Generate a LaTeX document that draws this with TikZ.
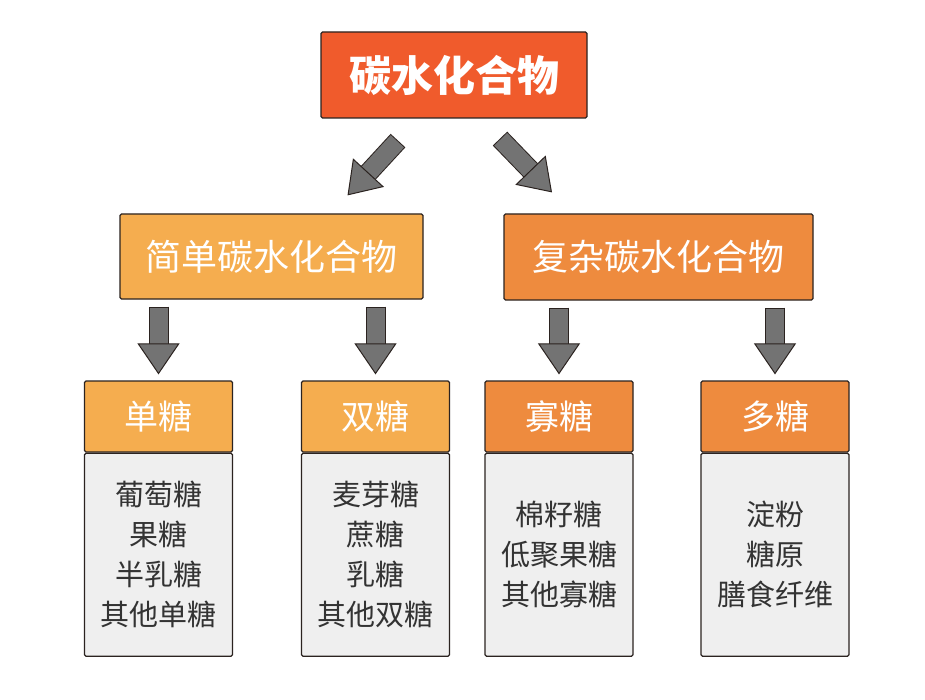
\documentclass[tikz,border=0pt]{standalone}
\usepackage{fontspec}
\newfontfamily\cjk{Noto Sans CJK SC}
\usetikzlibrary{positioning,calc,arrows.meta}
\definecolor{topred}{HTML}{F05B2C}
\definecolor{lightor}{HTML}{F5AD4F}
\definecolor{darkor}{HTML}{EE8B3E}
\definecolor{bodygray}{HTML}{EFEFEF}
\definecolor{edge}{HTML}{2B2320}
\definecolor{arrowgray}{HTML}{737373}
\begin{document}
\begin{tikzpicture}[x=1pt,y=-1pt,
  box/.style={draw=edge,line width=1.2pt,rounded corners=1.5pt,text=white,font=\cjk},
  head/.style={box,minimum width=148pt,minimum height=71pt,font=\cjk\fontsize{34}{34}\selectfont},
  list/.style={box,fill=bodygray,text=black!80,minimum width=148pt,minimum height=203pt,align=center,font=\cjk\fontsize{29}{40}\selectfont},
  fatarrow/.style={draw=arrowgray,line width=18pt,shorten <=1pt,
    -{Triangle[length=31pt,width=42pt,fill=arrowgray,color=edge,line width=1pt]},
    preaction={draw=edge,line width=20pt,shorten <=0pt,shorten >=30pt,-}}]
\useasboundingbox[fill=white] (0,0) rectangle (925,700);
% top
\node[box,fill=topred,minimum width=266pt,minimum height=86pt,font=\cjk\bfseries\fontsize{42}{42}\selectfont] (carb) at (454,75) {碳水化合物};
% second row
\node[box,fill=lightor,minimum width=303pt,minimum height=85pt,font=\cjk\fontsize{36}{36}\selectfont] (simple) at (271.5,256.5) {简单碳水化合物};
\node[box,fill=darkor,minimum width=309pt,minimum height=86pt,font=\cjk\fontsize{36}{36}\selectfont] (complex) at (658.5,257) {复杂碳水化合物};
% bottom row
\node[head,fill=lightor] (mono) at (158.5,416.5) {单糖};
\node[list,below=0pt of mono] (monolist) {葡萄糖\\果糖\\半乳糖\\其他单糖};
\node[head,fill=lightor] (di) at (375.5,416.5) {双糖};
\node[list,below=0pt of di] (dilist) {麦芽糖\\蔗糖\\乳糖\\其他双糖};
\node[head,fill=darkor] (oligo) at (559,416.5) {寡糖};
\node[list,below=0pt of oligo] (oligolist) {棉籽糖\\低聚果糖\\其他寡糖};
\node[head,fill=darkor] (poly) at (775,416.5) {多糖};
\node[list,below=0pt of poly] (polylist) {淀粉\\糖原\\膳食纤维};
% arrows
\draw[fatarrow] ([shift={(-56,22)}]carb.south) -- ([shift={(76,-18)}]simple.north);
\draw[fatarrow] ([shift={(46,20)}]carb.south) -- ([shift={(-106.5,-21)}]complex.north);
\draw[fatarrow] ($(simple.south -| mono.north)+(0,7)$) -- ($(mono.north)+(0,-6)$);
\draw[fatarrow] ($(simple.south -| di.north)+(0,7)$) -- ($(di.north)+(0,-6)$);
\draw[fatarrow] ($(complex.south -| oligo.north)+(0,7)$) -- ($(oligo.north)+(0,-6)$);
\draw[fatarrow] ($(complex.south -| poly.north)+(0,7)$) -- ($(poly.north)+(0,-6)$);
\end{tikzpicture}
\end{document}
